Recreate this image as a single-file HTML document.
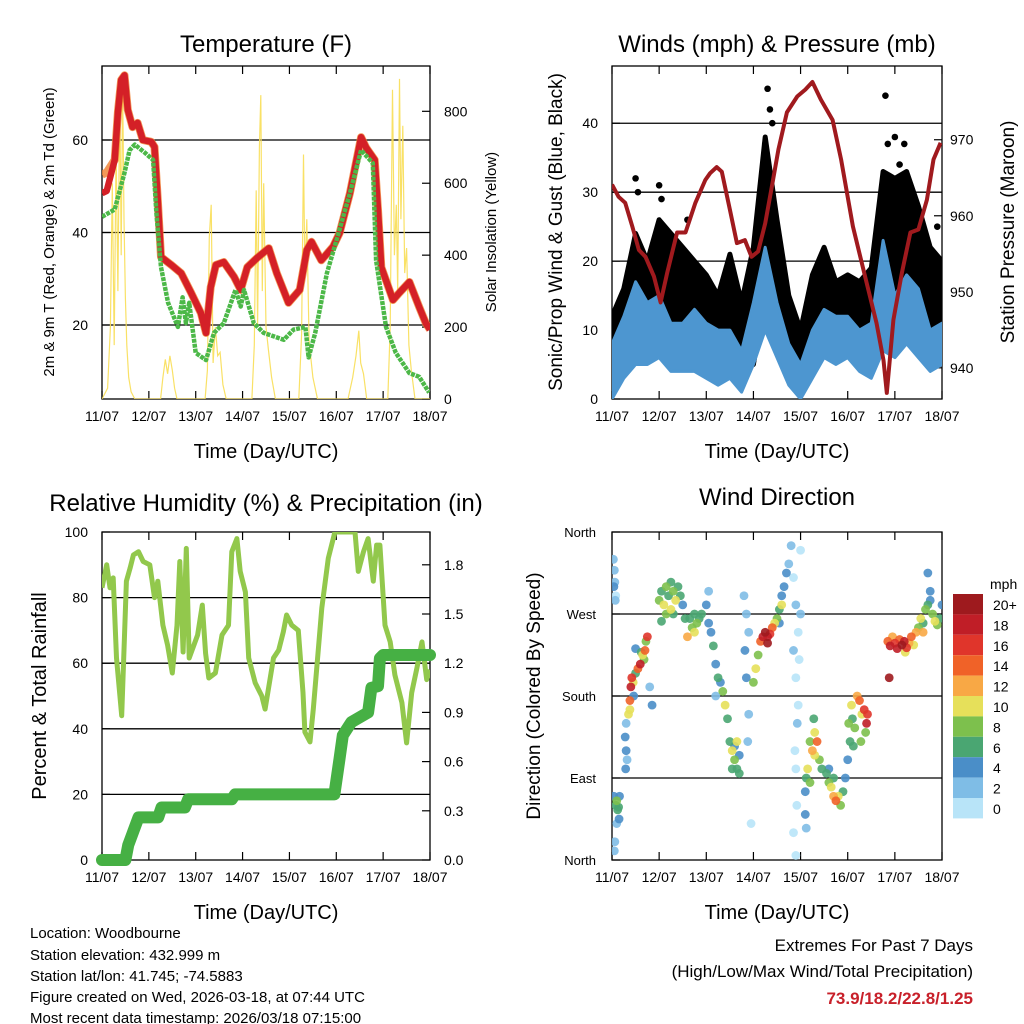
<!DOCTYPE html>
<html><head><meta charset="utf-8"><style>
body{margin:0;background:#fff}
svg{display:block;font-family:"Liberation Sans",Arial,sans-serif}
</style></head><body>
<svg id="chart" width="1024" height="1024" viewBox="0 0 1024 1024" xmlns="http://www.w3.org/2000/svg">
<defs>
<clipPath id="c1"><rect x="102" y="66" width="328" height="333"/></clipPath>
<clipPath id="c2"><rect x="612" y="66" width="330" height="333"/></clipPath>
<clipPath id="c3"><rect x="102" y="532" width="328" height="328"/></clipPath>
<clipPath id="c4"><rect x="612" y="532" width="330" height="328"/></clipPath>
</defs>
<g font-size="24" text-anchor="middle" fill="#000">
<text x="266" y="52">Temperature (F)</text>
<text x="777" y="52">Winds (mph) &amp; Pressure (mb)</text>
<text x="266" y="511">Relative Humidity (%) &amp; Precipitation (in)</text>
<text x="777" y="505">Wind Direction</text>
</g>
<g font-size="20" text-anchor="middle">
<text x="266" y="458">Time (Day/UTC)</text>
<text x="777" y="458">Time (Day/UTC)</text>
<text x="266" y="919">Time (Day/UTC)</text>
<text x="777" y="919">Time (Day/UTC)</text>
<text font-size="15" transform="translate(54,232) rotate(-90)">2m &amp; 9m T (Red, Orange) &amp; 2m Td (Green)</text>
<text font-size="15" transform="translate(496,232) rotate(-90)">Solar Insolation (Yellow)</text>
<text font-size="19" transform="translate(562,232) rotate(-90)">Sonic/Prop Wind &amp; Gust (Blue, Black)</text>
<text font-size="19" transform="translate(1014,232) rotate(-90)">Station Pressure (Maroon)</text>
<text transform="translate(46,696) rotate(-90)">Percent &amp; Total Rainfall</text>
<text font-size="19" transform="translate(540,696) rotate(-90)">Direction (Colored By Speed)</text>
</g>
<g id="layers"></g>
<g font-size="15">
<text x="30" y="938">Location: Woodbourne</text>
<text x="30" y="960">Station elevation: 432.999 m</text>
<text x="30" y="981">Station lat/lon: 41.745; -74.5883</text>
<text x="30" y="1002">Figure created on Wed, 2026-03-18, at 07:44 UTC</text>
<text x="30" y="1023">Most recent data timestamp: 2026/03/18 07:15:00</text>
</g>
<g font-size="17" text-anchor="end">
<text x="973" y="951">Extremes For Past 7 Days</text>
<text x="973" y="977">(High/Low/Max Wind/Total Precipitation)</text>
<text x="973" y="1004" fill="#c8202a" font-weight="bold">73.9/18.2/22.8/1.25</text>
</g>
</svg>
<script>
const days=["11/07","12/07","13/07","14/07","15/07","16/07","17/07","18/07"];
const tempDay=[0,0.1,0.27,0.34,0.41,0.48,0.55,0.65,0.76,0.87,1.05,1.12,1.19,1.26,1.48,1.69,1.9,2.11,2.22,2.32,2.43,2.6,2.82,2.96,3.1,3.31,3.56,3.73,3.98,4.22,4.37,4.47,4.68,4.93,5.07,5.29,5.53,5.64,5.82,5.89,5.96,6.21,6.35,6.56,6.77,6.91,7.0];
const tempVal=[48.5,49,55.7,66,73,74,66.5,62.8,63.7,60,59.6,58.5,47,34.7,33,31.2,27,22.6,18.3,28.2,33,33.6,30.4,27.6,32.5,34.5,36.6,31.2,24.8,27.6,36.2,38,34,36.9,39.9,48.5,60.6,58.3,55.7,44.9,32.5,25.4,27,29.3,23.9,20.4,19];
const dewDay=[0,0.27,0.48,0.59,0.7,0.92,1.09,1.16,1.26,1.41,1.62,1.72,1.79,1.86,2.0,2.22,2.39,2.6,2.85,2.96,3.03,3.24,3.45,3.88,4.09,4.34,4.41,4.55,4.8,5.05,5.29,5.53,5.78,5.85,6.06,6.27,6.56,6.77,6.98];
const dewVal=[43.4,45,52.9,57.8,59,57.2,55.7,44.2,32.5,24.8,19.6,26,20.4,24.8,14,12.4,18.3,20.4,27.6,24,27.6,20.4,18.3,16.8,19,19.6,13,18.3,31.2,39.9,48.5,57.8,55,34,19.6,14,9.6,8.8,5.4];
const solarDay=[0,0.12,0.18,0.22,0.26,0.3,0.34,0.38,0.41,0.44,0.47,0.5,0.53,0.57,0.62,0.7,1.25,1.3,1.35,1.4,1.45,1.5,1.55,1.6,2.2,2.25,2.29,2.33,2.37,2.42,2.47,2.52,2.58,2.65,3.2,3.25,3.29,3.32,3.36,3.39,3.42,3.45,3.5,3.55,3.62,3.7,4.2,4.26,4.3,4.33,4.37,4.42,4.5,4.6,5.25,5.35,5.42,5.48,5.52,5.58,5.65,6.1,6.15,6.2,6.24,6.28,6.31,6.35,6.38,6.42,6.46,6.5,6.55,6.6,6.68,7.0];
const solarVal=[0,30,200,600,150,700,300,860,400,880,500,280,150,60,20,0,0,60,110,70,120,80,30,0,0,80,450,540,100,200,120,130,40,0,0,150,580,200,700,845,300,600,200,140,60,0,0,180,680,350,500,160,60,0,0,60,120,190,100,70,0,0,200,860,400,540,300,890,500,760,350,420,150,80,0,0];
const windT=[0,0.25,0.5,0.75,1,1.25,1.5,1.75,2,2.25,2.5,2.75,3,3.25,3.5,3.75,4,4.25,4.5,4.75,5,5.25,5.5,5.75,6,6.25,6.5,6.75,7];
const sonicLo=[0,3,5,5,6,4,4,4,3,2,3,1,5,10,6,2,0,3,6,5,6,4,3,7,6,8,6,4,5];
const sonicHi=[8,12,17,14,15,11,11,13,11,10,10,7,14,22,14,8,5,10,13,12,12,10,11,23,15,18,16,10,11];
const gustLo=[2,5,9,8,9,9,6,7,5,4,8,4,5,15,7,3,1,8,10,8,8,7,5,13,14,15,12,9,6];
const gustHi=[12,16,24,20,26,24,22,20,18,15,21,14,22,38,26,15,10,18,22,17,18,17,19,33,32,33,28,22,20];
const gustOutDay=[0.5,0.55,1.0,1.05,3.3,3.35,3.4,3.25,5.8,5.85,6.0,6.2,6.1,1.6,6.9];
const gustOutVal=[32,30,31,29,45,42,40,37,44,37,38,37,34,26,25];
const presDay=[0,0.14,0.28,0.43,0.57,0.71,0.89,1.03,1.17,1.38,1.56,1.77,1.98,2.08,2.22,2.33,2.5,2.65,2.82,2.96,3.1,3.25,3.39,3.53,3.71,3.93,4.1,4.25,4.43,4.68,4.86,5.11,5.4,5.61,5.76,5.83,5.97,6.15,6.33,6.5,6.68,6.82,6.97];
const presVal=[964.1,962.5,961.7,958.6,955.5,954.6,952,948.6,952.5,957.8,957.8,961.7,964.7,965.6,966.4,965.8,960.8,956.4,956.8,954.6,955.3,959,963.8,968.7,973.6,975.7,976.6,977.6,975.3,972.6,967.4,958.6,951.2,945.9,941,936.7,946.3,952.5,957.8,958.2,962.1,967.4,969.6];
const rhDay=[0,0.1,0.17,0.24,0.31,0.42,0.52,0.6,0.67,0.78,0.88,1.02,1.12,1.19,1.3,1.4,1.5,1.6,1.66,1.73,1.8,1.86,2.04,2.14,2.21,2.28,2.42,2.56,2.7,2.77,2.88,2.95,3.06,3.13,3.27,3.41,3.48,3.66,3.77,3.87,3.94,4.05,4.19,4.29,4.33,4.44,4.51,4.69,4.83,4.97,5.4,5.47,5.58,5.68,5.79,5.86,5.93,6.04,6.15,6.25,6.4,6.5,6.61,6.72,6.83,6.93,7.0];
const rhVal=[83,90,83,86,61.6,44,85,89,93,94,91,90,80,85,71.6,65.5,57,71.6,91,63.4,95,61.6,68.6,77.7,63,55.5,57,68.6,71.6,94,98,88,81.7,61.6,54,50,46,61.6,64,69.5,74.7,71.6,70,51,39,36,46,76.8,92,100,100,88,94,98,85,96,96,71.6,66.5,56.4,48,35.7,51,58.5,66.5,55,58];
const rainDay=[0,0.5,0.56,0.78,1.2,1.27,1.77,1.84,2.77,2.84,4.96,5.07,5.14,5.32,5.68,5.75,5.89,5.93,6.0,7.0];
const rainVal=[0,0,0.09,0.26,0.26,0.32,0.32,0.37,0.37,0.4,0.4,0.62,0.76,0.84,0.9,1.05,1.06,1.23,1.25,1.25];
const dirDay=[0.03,0.05,0.06,0.08,0.04,0.07,0.04,0.08,0.1,0.12,0.15,0.14,0.1,0.06,0.05,0.16,0.28,0.3,0.32,0.29,0.3,0.35,0.38,0.4,0.42,0.45,0.5,0.55,0.6,0.65,0.7,0.72,0.75,0.5,0.62,0.46,0.8,0.85,0.38,0.68,1.0,1.05,1.1,1.15,1.2,1.25,1.3,1.35,1.4,1.45,1.5,1.15,1.3,1.25,1.55,1.05,1.65,1.7,1.75,1.8,1.85,1.9,1.75,1.6,2.0,2.05,2.05,2.1,2.15,2.2,2.25,2.3,2.35,2.4,2.45,2.2,2.5,2.55,2.6,2.65,2.7,2.6,2.7,2.55,2.65,2.8,2.85,2.9,2.85,2.9,2.88,2.95,2.82,3.0,3.05,3.1,3.15,3.2,3.25,3.3,3.35,3.4,3.45,3.3,3.5,3.55,3.6,3.65,3.7,3.75,3.6,3.55,3.8,3.85,3.9,3.95,3.85,3.9,3.95,3.88,3.92,3.85,3.9,4.0,4.0,3.97,3.9,3.93,4.1,4.12,4.15,4.2,4.25,4.3,4.35,4.4,4.45,4.2,4.3,4.28,4.1,4.12,4.55,4.6,4.65,4.7,4.75,4.8,4.85,4.9,4.7,4.6,4.95,5.0,5.05,5.02,5.08,5.1,5.15,5.12,5.2,5.25,5.3,5.35,5.4,5.38,5.28,5.42,5.85,5.9,5.95,6.0,6.05,6.1,6.15,6.2,6.25,6.3,6.35,6.4,5.88,6.22,6.45,6.5,6.55,6.6,6.65,6.7,6.75,6.8,6.85,6.9,6.95,7.0,6.7,6.75,6.6];
const dirDeg=[330,318,305,290,300,285,70,60,65,55,45,58,40,20,10,70,135,120,110,100,150,160,175,190,200,195,205,210,215,225,230,240,245,232,228,180,190,170,165,220,285,295,280,300,290,305,295,285,300,290,280,270,270,275,265,262,265,255,270,260,265,270,250,245,280,260,295,250,235,215,200,195,185,170,155,180,130,120,110,100,95,125,115,100,130,290,270,250,200,160,130,40,230,195,210,225,240,245,250,245,248,255,260,238,265,275,290,300,315,325,280,260,345,310,280,250,230,200,170,120,60,30,5,340,270,220,100,150,75,90,100,85,120,140,130,110,100,130,115,155,50,35,95,85,80,70,65,70,60,75,90,100,90,110,130,150,170,155,145,125,180,175,160,165,150,140,130,160,240,235,245,238,232,242,236,240,233,238,245,236,200,228,250,255,265,260,275,280,285,270,262,258,265,280,315,295,250];
const dirSpd=[2,3,2,1,4,3,4,6,8,6,4,7,3,2,3,5,4,4,3,4,2,10,14,18,17,10,6,14,18,10,14,8,16,4,6,4,3,4,10,8,8,6,10,8,7,6,8,10,7,6,5,8,6,10,6,7,7,8,6,8,7,6,10,12,4,4,3,4,6,5,6,4,8,10,7,2,6,10,8,7,6,4,4,6,10,2,2,3,4,2,2,1,4,8,10,8,14,18,20,18,16,14,10,20,8,6,5,4,4,3,10,4,2,1,2,1,2,1,0,1,0,1,0,1,2,0,1,2,4,6,10,8,12,10,14,8,6,8,10,6,4,2,6,8,10,12,14,10,8,6,6,4,4,5,6,8,10,6,8,6,12,14,10,16,18,8,8,16,14,18,12,16,18,14,20,18,16,12,14,10,20,10,12,8,10,6,8,6,5,8,10,8,6,5,4,4,12];
const spdColors=["#b8e4f8","#7fbde6","#4a8ec8","#4aa672","#7dc04d","#e6e05a","#f8a845","#f06228","#e0352b","#c01e27","#9e1a1e"];
const spdLabels=["0","2","4","6","8","10","12","14","16","18","20+"];

const NS="http://www.w3.org/2000/svg";
const layers=document.getElementById('layers');
function mk(tag,attrs,parent){const e=document.createElementNS(NS,tag);for(const k in attrs)e.setAttribute(k,attrs[k]);(parent||layers).appendChild(e);return e;}
function lin(d0,d1,r0,r1){return v=>r0+(v-d0)/(d1-d0)*(r1-r0);}
function pathFrom(xs,ys,fx,fy){let s="";for(let i=0;i<xs.length;i++)s+=(i?"L":"M")+fx(xs[i]).toFixed(1)+","+fy(ys[i]).toFixed(1);return s;}
function bandFrom(xs,lo,hi,fx,fy){let s="";for(let i=0;i<xs.length;i++)s+=(i?"L":"M")+fx(xs[i]).toFixed(1)+","+fy(hi[i]).toFixed(1);for(let i=xs.length-1;i>=0;i--)s+="L"+fx(xs[i]).toFixed(1)+","+fy(lo[i]).toFixed(1);return s+"Z";}

const P=[{x0:102,x1:430,y0:66,y1:399},{x0:612,x1:942,y0:66,y1:399},{x0:102,x1:430,y0:532,y1:860},{x0:612,x1:942,y0:532,y1:860}];
function frame(p,i,gridYs){
  const g=mk('g',{});
  
  
  gridYs.forEach(y=>{const l=mk('line',{x1:p.x0,x2:p.x1,y1:y,y2:y,stroke:'#000','stroke-width':1.3},g);
    
    });
  const r=mk('rect',{x:p.x0,y:p.y0,width:p.x1-p.x0,height:p.y1-p.y0,fill:'none',stroke:'#000','stroke-width':1.3},g);
  
  
  const fx=lin(0,7,p.x0,p.x1);
  days.forEach((d,k)=>{const x=fx(k);
    mk('line',{x1:x,x2:x,y1:p.y1,y2:p.y1-8,stroke:'#000','stroke-width':1.2},g);
    mk('line',{x1:x,x2:x,y1:p.y0,y2:p.y0+8,stroke:'#000','stroke-width':1.2},g);
    const t=mk('text',{x:x,y:p.y1+22,'font-size':14,'text-anchor':'middle'},g);t.textContent=d;
    
    });
  return fx;
}
function yLabels(vals,fy,x,anchor,fmt,tickX,dir){
  vals.forEach(v=>{const y=fy(v);
    const t=mk('text',{x:x,y:y+5,'font-size':14,'text-anchor':anchor});t.textContent=fmt?fmt(v):v;
    
    
    mk('line',{x1:tickX,x2:tickX+dir*8,y1:y,y2:y,stroke:'#000','stroke-width':1.2});});
}

// Panel 1 Temperature
(function(){const p=P[0];const fy=lin(4,76,p.y1,p.y0);const fs=lin(0,926,p.y1,p.y0);
 const fx=frame(p,0,[20,40,60].map(fy));
 yLabels([20,40,60],fy,88,'end',null,p.x0,1);
 yLabels([0,200,400,600,800],fs,444,'start',null,p.x1,-1);
 const g=mk('g',{'clip-path':'url(#c1)'});
 const s=mk('path',{d:pathFrom(solarDay,solarVal,fx,fs),fill:'none',stroke:'#f8de55','stroke-width':1.2,opacity:0.9},g);
 
 
 const o=mk('path',{d:pathFrom(tempDay,tempVal.map((v,i)=>i<2?v+4:v),fx,fy),fill:'none',stroke:'#f08030','stroke-width':8,'stroke-linejoin':'round',opacity:0.8},g);
 
 
 const r=mk('path',{d:pathFrom(tempDay,tempVal,fx,fy),fill:'none',stroke:'#d42027','stroke-width':6.5,'stroke-linejoin':'round'},g);
 
 
 const d=mk('path',{d:pathFrom(dewDay,dewVal,fx,fy),fill:'none',stroke:'#4cb848','stroke-width':4.5,'stroke-dasharray':'4 1','stroke-linejoin':'round'},g);
 
 
})();
// Panel 2 Winds
(function(){const p=P[1];const fy=lin(0,48.3,p.y1,p.y0);const fp=lin(935.9,979.7,p.y1,p.y0);
 const fx=frame(p,1,[10,20,30,40].map(fy));
 yLabels([0,10,20,30,40],fy,598,'end',null,p.x0,1);
 yLabels([940,950,960,970],fp,950,'start',null,p.x1,-1);
 const g=mk('g',{'clip-path':'url(#c2)'});
 const gb=mk('path',{d:bandFrom(windT,gustLo,gustHi,fx,fy),fill:'#000',stroke:'#000','stroke-width':5,'stroke-linejoin':'round'},g);
 
 
 gustOutDay.forEach((d,i)=>{const c=mk('circle',{cx:fx(d),cy:fy(gustOutVal[i]),r:3.3,fill:'#000'},g);
   
   });
 const sb=mk('path',{d:bandFrom(windT,sonicLo,sonicHi,fx,fy),fill:'#4d96d0',stroke:'#4d96d0','stroke-width':3,'stroke-linejoin':'round'},g);
 
 
 const pr=mk('path',{d:pathFrom(presDay,presVal,fx,fp),fill:'none',stroke:'#a01a1e','stroke-width':4,'stroke-linejoin':'round'},g);
 
 
})();
// Panel 3 RH & rain
(function(){const p=P[2];const fy=lin(0,100,p.y1,p.y0);const fr=lin(0,2,p.y1,p.y0);
 const fx=frame(p,2,[20,40,60,80].map(fy));
 yLabels([0,20,40,60,80,100],fy,88,'end',null,p.x0,1);
 yLabels([0,0.3,0.6,0.9,1.2,1.5,1.8],fr,444,'start',v=>v.toFixed(1),p.x1,-1);
 const g=mk('g',{'clip-path':'url(#c3)'});
 const rh=mk('path',{d:pathFrom(rhDay,rhVal,fx,fy),fill:'none',stroke:'#92c84c','stroke-width':5,'stroke-linejoin':'round'},g);
 
 
 const rn=mk('path',{d:pathFrom(rainDay,rainVal,fx,fr),fill:'none',stroke:'#46b044','stroke-width':12,'stroke-linejoin':'round','stroke-linecap':'round'});
 
 
})();
// Panel 4 direction
(function(){const p=P[3];const fy=lin(0,360,p.y1,p.y0);
 const fx=frame(p,3,[90,180,270].map(fy));
 const names=["North","East","South","West","North"];
 [0,90,180,270,360].forEach((v,i)=>{const t=mk('text',{x:596,y:fy(v)+5,'font-size':13,'text-anchor':'end'});t.textContent=names[i];
   
   
   mk('line',{x1:p.x0,x2:p.x0+8,y1:fy(v),y2:fy(v),stroke:'#000','stroke-width':1.2});});
 const g=mk('g',{'clip-path':'url(#c4)'});
 const order=dirSpd.map((s,i)=>i).sort((a,b)=>dirSpd[a]-dirSpd[b]);
 order.forEach(i=>{const ci=Math.min(10,Math.floor(dirSpd[i]/2));
   const c=mk('circle',{cx:fx(dirDay[i]),cy:fy(dirDeg[i]),r:4.4,fill:spdColors[ci],opacity:0.9},g);
   
   });
 const lg=mk('g',{});
 
 
 const t=mk('text',{x:990,y:589,'font-size':14},lg);t.textContent='mph';
 spdColors.forEach((c,i)=>{const k=10-i;const y=594+i*20.4;
   mk('rect',{x:953,y:y,width:30,height:20.4,fill:spdColors[k]},lg);
   const l=mk('text',{x:993,y:y+16,'font-size':14},lg);l.textContent=spdLabels[k];
   
   });
})();
</script>
</body></html>
